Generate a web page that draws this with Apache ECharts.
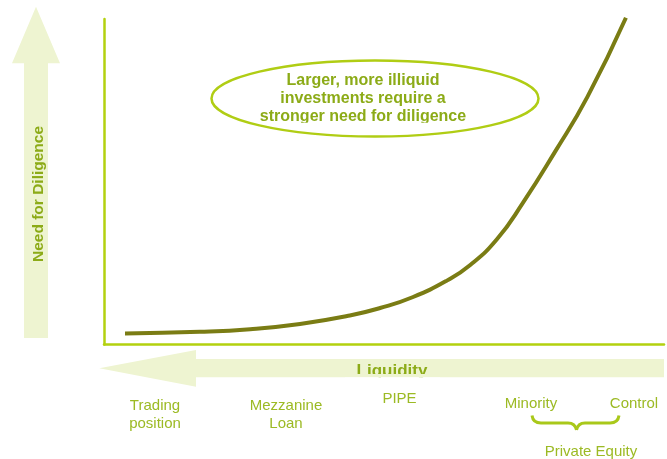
<!DOCTYPE html>
<html>
<head>
<meta charset="utf-8">
<script src="https://cdn.jsdelivr.net/npm/echarts@6/dist/echarts.min.js"></script>
<style>
  html, body { margin: 0; padding: 0; background: #fff; }
  #chart { width: 667px; height: 459px; }
</style>
</head>
<body>
<div id="chart"></div>
<script>
// curve (x: liquidity scale 0-100, y: need for diligence 0-100)
const curveX = [3.75, 17.1, 26.1, 35.0, 43.9, 49.3, 55.2, 61.3, 65.4, 70.2, 74.8, 80.5, 86.3, 93.2]
const curveY = [3.4, 3.9, 4.7, 6.3, 8.9, 11.2, 14.6, 19.7, 24.4, 32.4, 43.5, 59.1, 76.0, 100.4]

const yTitle = 'Need for Diligence'
const xTitle = 'Liquidity'
const calloutLines = ['Larger, more illiquid', 'investments require a', 'stronger need for diligence']
const stages = ['Trading\nposition', 'Mezzanine\nLoan', 'PIPE', 'Minority', 'Control']
const groupName = 'Private Equity'

const FONT = '"Liberation Sans", Arial, sans-serif'
const AXIS_GREEN = '#b3d10f'
const PALE = '#eef4d1'
const TEXT_GREEN = '#9cba24'
const BOLD_GREEN = '#8cab17'
const BRACE_GREEN = '#a9c81a'

// label anchor points (center x, first line center y)
const stagePos = [[155, 405.5], [286, 405.5], [399.5, 398.5], [531, 403.5], [634, 404]]

const chart = echarts.init(document.getElementById('chart'))

const graphic = []

// up arrow
graphic.push({
  type: 'polygon',
  shape: { points: [[36, 6.7], [60, 63.3], [48, 63.3], [48, 338], [24, 338], [24, 63.3], [12, 63.3]] },
  style: { fill: PALE }
})
// left arrow
graphic.push({
  type: 'polygon',
  shape: { points: [[99.3, 368.3], [196, 350], [196, 359], [664, 359], [664, 377.3], [196, 377.3], [196, 386.7]] },
  style: { fill: PALE }
})

// axis titles
graphic.push({
  type: 'text',
  x: 39,
  y: 194,
  rotation: Math.PI / 2,
  style: { text: yTitle, font: 'bold 15.5px ' + FONT, fill: BOLD_GREEN, align: 'center', verticalAlign: 'middle' }
})
graphic.push({
  type: 'text',
  x: 392,
  y: 371,
  style: { text: xTitle, font: 'bold 17px ' + FONT, fill: BOLD_GREEN, align: 'center', verticalAlign: 'middle' }
})
// the title is cut off by the arrow edge
graphic.push({ type: 'rect', shape: { x: 345, y: 374, width: 95, height: 3.3 }, style: { fill: PALE } })
graphic.push({ type: 'rect', shape: { x: 345, y: 377.3, width: 95, height: 9 }, style: { fill: '#fff' } })

// callout
calloutLines.forEach(function (line, i) {
  graphic.push({
    type: 'text',
    x: 363,
    y: 81 + i * 18,
    style: { text: line, font: 'bold 16px ' + FONT, fill: BOLD_GREEN, align: 'center', verticalAlign: 'middle' }
  })
})
graphic.push({ type: 'rect', shape: { x: 250, y: 122.8, width: 230, height: 6 }, style: { fill: '#fff' } })
graphic.push({
  type: 'ellipse',
  shape: { cx: 375, cy: 98.5, rx: 163.5, ry: 38 },
  style: { fill: 'none', stroke: '#b0cd14', lineWidth: 2.5 }
})

// stage labels
stages.forEach(function (label, i) {
  label.split('\n').forEach(function (line, j) {
    graphic.push({
      type: 'text',
      x: stagePos[i][0],
      y: stagePos[i][1] + j * 18,
      style: { text: line, font: '15px ' + FONT, fill: TEXT_GREEN, align: 'center', verticalAlign: 'middle' }
    })
  })
})

// brace under Minority / Control
const braceStyle = { fill: 'none', stroke: BRACE_GREEN, lineWidth: 3 }
graphic.push(
  { type: 'bezierCurve', shape: { x1: 532, y1: 415.5, cpx1: 533, cpy1: 423, x2: 541, y2: 423 }, style: braceStyle },
  { type: 'line', shape: { x1: 541, y1: 423, x2: 568, y2: 423 }, style: braceStyle },
  { type: 'bezierCurve', shape: { x1: 568, y1: 423, cpx1: 575, cpy1: 423, x2: 576.5, y2: 430 }, style: braceStyle },
  { type: 'bezierCurve', shape: { x1: 576.5, y1: 430, cpx1: 578, cpy1: 423, x2: 585, y2: 423 }, style: braceStyle },
  { type: 'line', shape: { x1: 585, y1: 423, x2: 610, y2: 423 }, style: braceStyle },
  { type: 'bezierCurve', shape: { x1: 610, y1: 423, cpx1: 618, cpy1: 423, x2: 619, y2: 415.5 }, style: braceStyle }
)
graphic.push({
  type: 'text',
  x: 591,
  y: 452,
  style: { text: groupName, font: '15px ' + FONT, fill: TEXT_GREEN, align: 'center', verticalAlign: 'middle' }
})

chart.setOption({
  animation: false,
  grid: { left: 104, right: 3, top: 19, bottom: 114.5 },
  xAxis: {
    type: 'value',
    min: 0,
    max: 100,
    axisLine: { lineStyle: { color: AXIS_GREEN, width: 2.5 } },
    axisTick: { show: false },
    axisLabel: { show: false },
    splitLine: { show: false }
  },
  yAxis: {
    type: 'value',
    min: 0,
    max: 100,
    axisLine: { show: true, lineStyle: { color: AXIS_GREEN, width: 2.5 } },
    axisTick: { show: false },
    axisLabel: { show: false },
    splitLine: { show: false }
  },
  graphic: graphic,
  series: [
    {
      type: 'line',
      data: curveX.map(function (x, i) { return [x, curveY[i]] }),
      smooth: 0.5,
      clip: false,
      showSymbol: false,
      lineStyle: { color: '#7a7c14', width: 4, cap: 'butt' }
    }
  ]
})
</script>
</body>
</html>
